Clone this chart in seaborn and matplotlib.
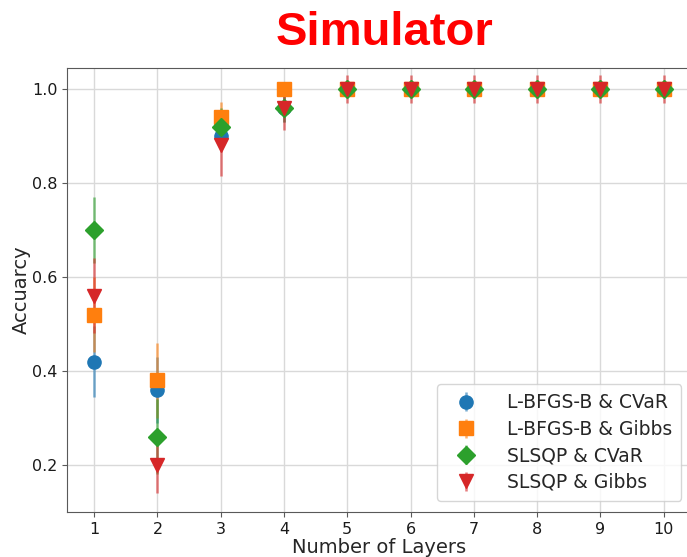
import matplotlib
matplotlib.use("Agg")
import matplotlib.pyplot as plt
import seaborn as sns
import numpy as np

# Accuracy vs. circuit depth for each optimizer / objective combination
layers = [1, 2, 3, 4, 5, 6, 7, 8, 9, 10]

lbfgsb_cvar = [0.42, 0.36, 0.90, 0.96, 1.0, 1.0, 1.0, 1.0, 1.0, 1.0]
lbfgsb_cvar_err = [0.075, 0.07, 0.03, 0.03, 0.0, 0.0, 0.0, 0.0, 0.0, 0.0]

lbfgsb_gibbs = [0.52, 0.38, 0.94, 1.0, 1.0, 1.0, 1.0, 1.0, 1.0, 1.0]
lbfgsb_gibbs_err = [0.08, 0.08, 0.033, 0.0, 0.0, 0.0, 0.0, 0.0, 0.0, 0.0]

slsqp_cvar = [0.70, 0.26, 0.92, 0.96, 1.0, 1.0, 1.0, 1.0, 1.0, 1.0]
slsqp_cvar_err = [0.07, 0.08, 0.04, 0.03, 0.0, 0.0, 0.0, 0.0, 0.0, 0.0]

slsqp_gibbs = [0.56, 0.20, 0.88, 0.96, 1.0, 1.0, 1.0, 1.0, 1.0, 1.0]
slsqp_gibbs_err = [0.08, 0.06, 0.065, 0.047, 0.03, 0.03, 0.03, 0.03, 0.03, 0.03]

series_labels = ["L-BFGS-B & CVaR", "L-BFGS-B & Gibbs", "SLSQP & CVaR", "SLSQP & Gibbs"]
series_values = [lbfgsb_cvar, lbfgsb_gibbs, slsqp_cvar, slsqp_gibbs]
series_errors = [lbfgsb_cvar_err, lbfgsb_gibbs_err, slsqp_cvar_err, slsqp_gibbs_err]
markers = ["o", "s", "D", "v"]

sns.set_style("ticks", {"axes.grid": True, "grid.color": "0.85",
                        "axes.edgecolor": "0.35"})
plt.rcParams["font.family"] = ["DejaVu Sans"]
palette = sns.color_palette("tab10", 4)

fig = plt.figure(figsize=(6.87, 5.57), dpi=100)
ax = fig.add_axes([0.0975, 0.081, 0.908, 0.797])

for label, vals, errs, mk, col in zip(series_labels, series_values,
                                      series_errors, markers, palette):
    eb = ax.errorbar(layers, vals, yerr=errs, fmt=mk, color=col,
                     markersize=9.5, elinewidth=1.8, ecolor=col,
                     label=label)
    for line in eb[2]:
        line.set_alpha(0.6)

ax.set_xlim(0.57, 10.43)
ax.set_ylim(0.1, 1.045)
ax.set_xticks(layers)
ax.set_yticks([0.2, 0.4, 0.6, 0.8, 1.0])
ax.tick_params(labelsize=11.5, length=3.5, color="0.35", labelcolor="0.1")
ax.grid(True, color="0.85", linewidth=1)
ax.set_xlabel("Number of Layers", fontsize=14, labelpad=1)
ax.set_ylabel("Accuarcy", fontsize=14, labelpad=1)

ax.legend(loc="lower right", fontsize=13.5, bbox_to_anchor=(1.0, 0.003),
          borderpad=0.5, labelspacing=0.4, handletextpad=1.2)

fig.text(0.559, 0.919, "Simulator", color="#ff0000", fontsize=34,
         fontweight="bold", family=["Liberation Sans", "DejaVu Sans"],
         ha="center", va="baseline")

fig.savefig("out.png", dpi=100)
